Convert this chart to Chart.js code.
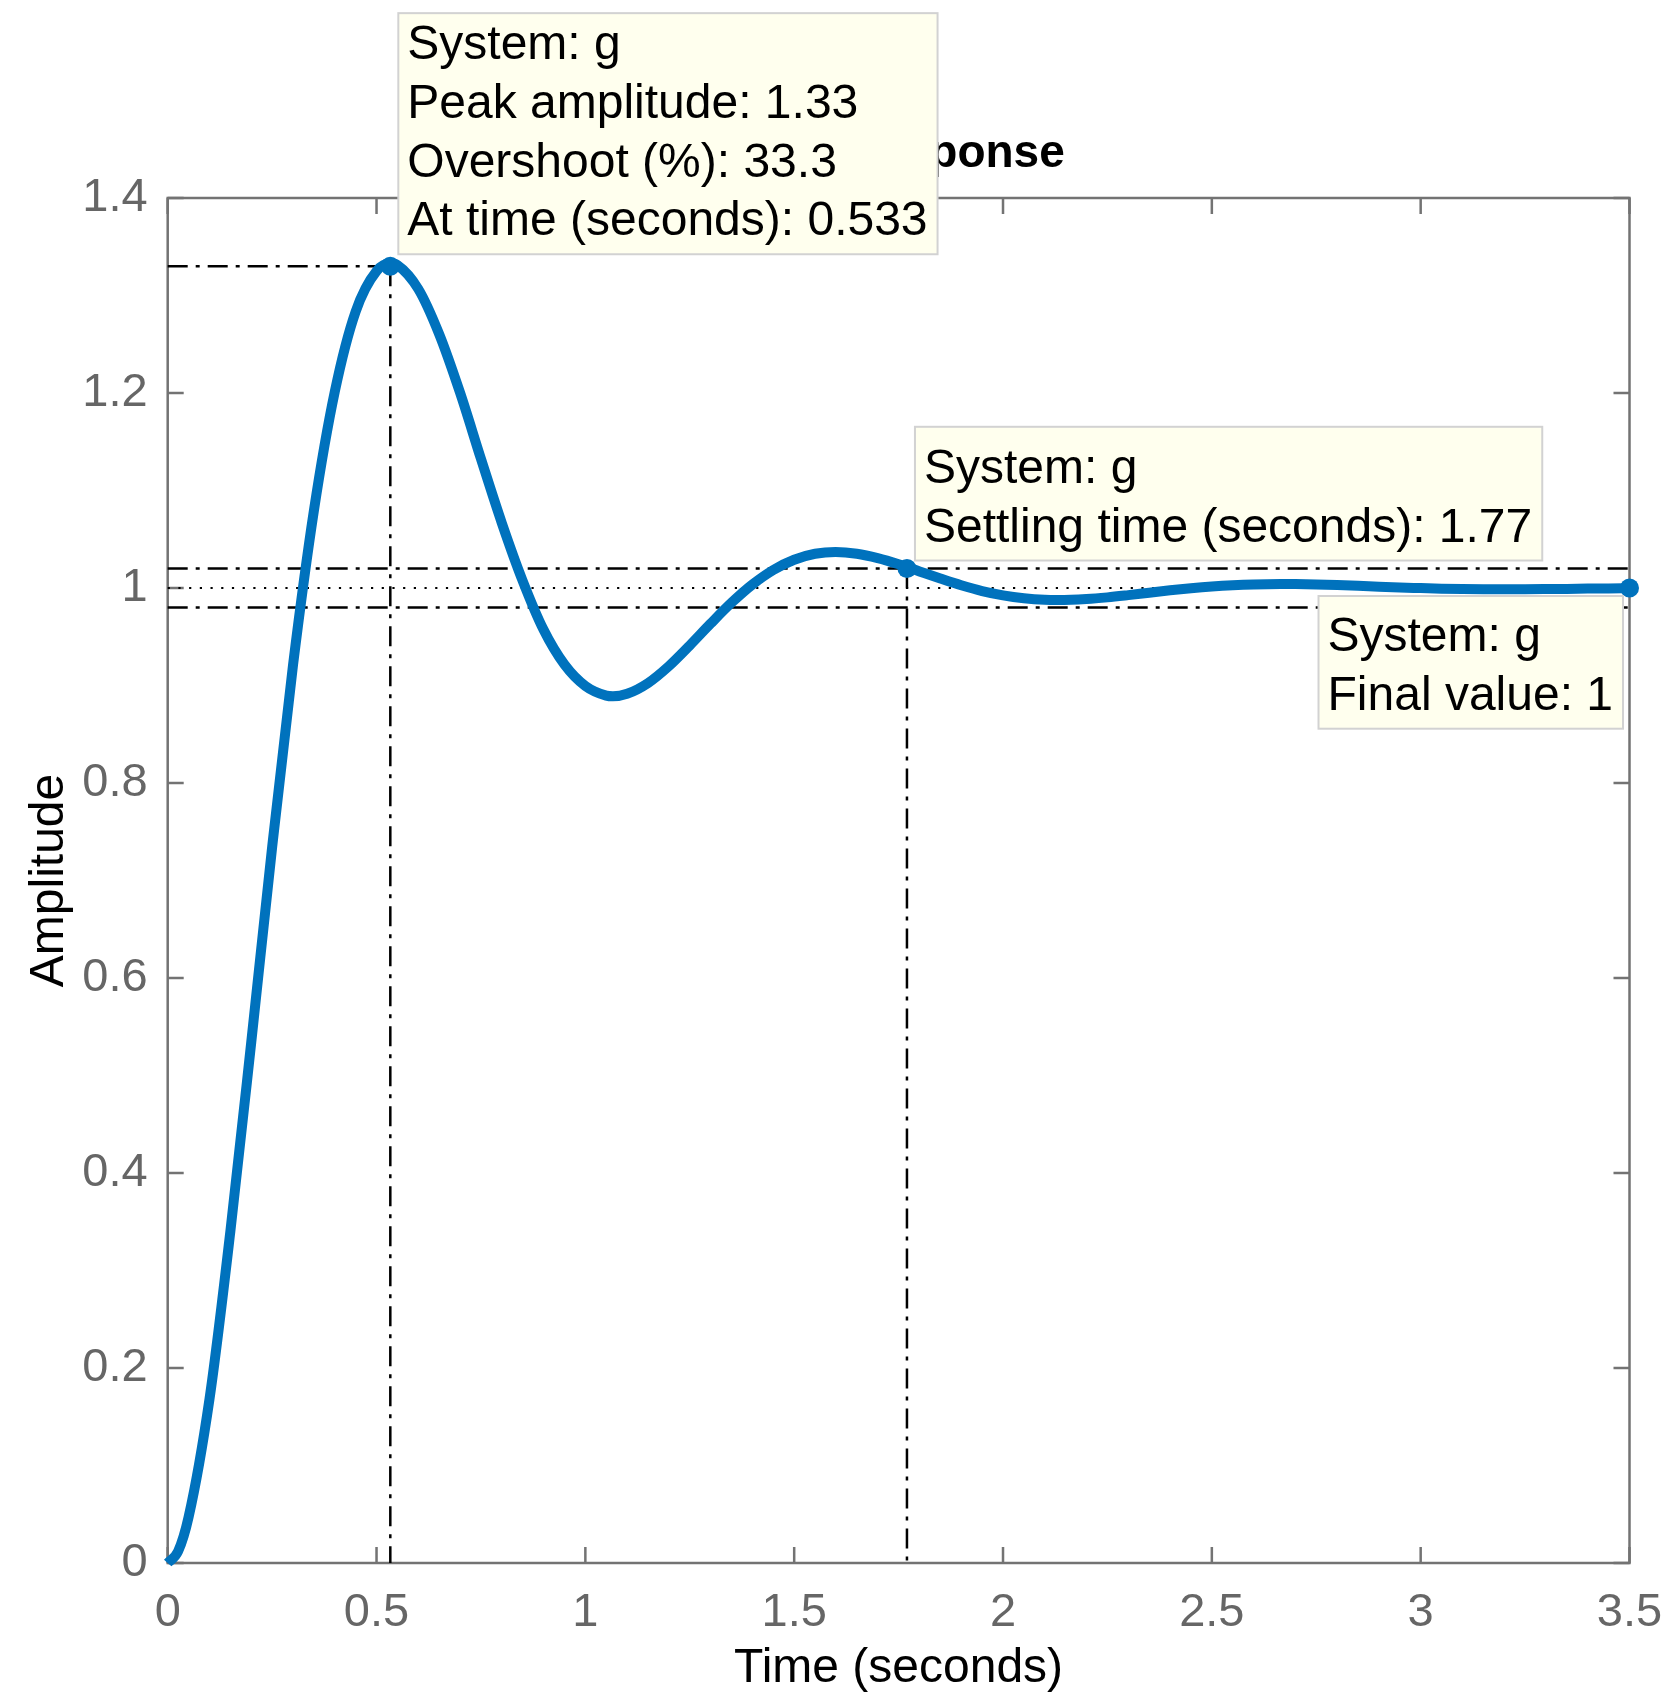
<!DOCTYPE html>
<html>
<head>
<meta charset="utf-8">
<title>Step Response</title>
<script src="https://cdn.jsdelivr.net/npm/chart.js@4.4.1/dist/chart.umd.min.js"></script>
<style>
  html, body { margin: 0; padding: 0; background: #ffffff; }
  #wrap { width: 1665px; height: 1695px; }
</style>
</head>
<body>
<div id="wrap"><canvas id="chart" width="1665" height="1695"></canvas></div>
<script>
// Step response of system g: time samples (s) and amplitude
const timeSeconds = [0, 0.025, 0.05, 0.1, 0.15, 0.2, 0.25, 0.3, 0.35, 0.4, 0.45, 0.5, 0.533,
  0.55, 0.6, 0.65, 0.7, 0.75, 0.8, 0.85, 0.9, 0.95, 1.0, 1.05, 1.066,
  1.1, 1.15, 1.2, 1.25, 1.3, 1.35, 1.4, 1.45, 1.5, 1.55, 1.599,
  1.65, 1.7, 1.75, 1.8, 1.85, 1.9, 1.95, 2.0, 2.05, 2.1, 2.132,
  2.2, 2.25, 2.3, 2.35, 2.4, 2.45, 2.5, 2.55, 2.6, 2.665,
  2.7, 2.75, 2.8, 2.85, 2.9, 2.95, 3.0, 3.05, 3.1, 3.15, 3.2, 3.25, 3.3, 3.35, 3.4, 3.45, 3.5];
const amplitude = [0, 0.012, 0.047, 0.168, 0.340, 0.534, 0.734, 0.9208, 1.0792, 1.2012, 1.2835, 1.3250, 1.3330,
  1.3312, 1.3067, 1.2604, 1.2003, 1.1325, 1.0666, 1.0072, 0.9571, 0.9215, 0.8995, 0.8896, 0.8889,
  0.8915, 0.9025, 0.9199, 0.9411, 0.9635, 0.9849, 1.0036, 1.0185, 1.0290, 1.0351, 1.0370,
  1.0352, 1.0307, 1.0244, 1.0170, 1.0097, 1.0028, 0.9969, 0.9925, 0.9895, 0.9879, 0.9877,
  0.9887, 0.9904, 0.9927, 0.9952, 0.9976, 0.9998, 1.0016, 1.0029, 1.0037, 1.0041,
  1.0040, 1.0036, 1.0030, 1.0022, 1.0013, 1.0005, 0.9999, 0.9993, 0.9989, 0.9987, 0.9986, 0.9987, 0.9989, 0.9991, 0.9994, 0.9996, 0.9999];

// Response characteristics
const systemName = 'g';
const peakAmplitude = 1.33;
const overshootPercent = 33.3;
const peakTime = 0.533;
const settlingTime = 1.77;
const settlingUpper = 1.02;
const settlingLower = 0.98;
const finalValue = 1;
const finalTime = 3.5;

// Axis ticks and labels
const xTickValues = [0, 0.5, 1, 1.5, 2, 2.5, 3, 3.5];
const xTickLabels = ['0', '0.5', '1', '1.5', '2', '2.5', '3', '3.5'];
const yTickValues = [0, 0.2, 0.4, 0.6, 0.8, 1, 1.2, 1.4];
const yTickLabels = ['0', '0.2', '0.4', '0.6', '0.8', '1', '1.2', '1.4'];
const chartTitle = 'Step Response';

const FONT = "'Liberation Sans', Arial, Helvetica, sans-serif";
const BLUE = '#0072BD';
const AXIS_GRAY = '#737373';
const TICK_TEXT = '#666666';

const pts = (xs, ys) => xs.map((x, i) => ({ x: x, y: ys[i] }));

const refLine = (data, dash, width) => ({
  type: 'line', data: data, borderColor: '#000000', borderWidth: width,
  borderDash: dash, pointRadius: 0, tension: 0, clip: false, order: 5
});
const DASHDOT = [20, 8, 4, 8];
const DOTTED = [2.2, 8.5];

const datasets = [
  {
    label: 'g', data: pts(timeSeconds, amplitude),
    borderColor: BLUE, borderWidth: 10, pointRadius: 0,
    cubicInterpolationMode: 'monotone', borderJoinStyle: 'round',
    clip: false, order: 1
  },
  // characteristic markers
  {
    label: 'markers', type: 'scatter',
    data: [{ x: peakTime, y: peakAmplitude }, { x: settlingTime, y: settlingUpper }, { x: finalTime, y: finalValue }],
    pointRadius: 9.5, pointBackgroundColor: BLUE, pointBorderWidth: 0,
    showLine: false, clip: false, order: 0
  },
  // settling band and steady-state level
  refLine([{ x: 0, y: settlingUpper }, { x: finalTime, y: settlingUpper }], DASHDOT, 2.5),
  refLine([{ x: 0, y: settlingLower }, { x: finalTime, y: settlingLower }], DASHDOT, 2.5),
  refLine([{ x: 0, y: finalValue }, { x: finalTime, y: finalValue }], DOTTED, 2.2),
  // peak guides
  refLine([{ x: 0, y: peakAmplitude }, { x: peakTime, y: peakAmplitude }], DASHDOT, 2.5),
  refLine([{ x: peakTime, y: peakAmplitude }, { x: peakTime, y: 0 }], DASHDOT, 2.5),
  // settling time guide
  refLine([{ x: settlingTime, y: settlingUpper }, { x: settlingTime, y: 0 }], DASHDOT, 2.5)
];

// Title centred over the axes, box around the axes, inward ticks on all four sides
const axesFrame = {
  id: 'axesFrame',
  beforeDatasetsDraw(chart) {
    const { ctx, chartArea: a, scales: { x, y } } = chart;
    const len = 16;
    ctx.save();
    ctx.fillStyle = '#000000';
    ctx.font = 'bold 46px ' + FONT;
    ctx.textAlign = 'center';
    ctx.textBaseline = 'alphabetic';
    ctx.fillText(chartTitle, (a.left + a.right) / 2, a.top - 31);

    ctx.strokeStyle = AXIS_GRAY;
    ctx.lineWidth = 2.5;
    ctx.beginPath();
    xTickValues.forEach(v => {
      const px = x.getPixelForValue(v);
      ctx.moveTo(px, a.bottom); ctx.lineTo(px, a.bottom - len);
      ctx.moveTo(px, a.top); ctx.lineTo(px, a.top + len);
    });
    yTickValues.forEach(v => {
      const py = y.getPixelForValue(v);
      ctx.moveTo(a.left, py); ctx.lineTo(a.left + len, py);
      ctx.moveTo(a.right, py); ctx.lineTo(a.right - len, py);
    });
    ctx.stroke();
    ctx.strokeRect(a.left, a.top, a.right - a.left, a.bottom - a.top);
    ctx.restore();
  }
};

// Data tips describing the response characteristics
const dataTips = [
  {
    lines: ['System: ' + systemName, 'Peak amplitude: ' + peakAmplitude.toFixed(2),
            'Overshoot (%): ' + overshootPercent.toFixed(1), 'At time (seconds): ' + peakTime.toFixed(3)],
    at: [peakTime, peakAmplitude], corner: 'bottom-left', dx: 8, dy: -12, padTop: 46
  },
  {
    lines: ['System: ' + systemName, 'Settling time (seconds): ' + settlingTime.toFixed(2)],
    at: [settlingTime, settlingUpper], corner: 'bottom-left', dx: 8, dy: -8, padTop: 56
  },
  {
    lines: ['System: ' + systemName, 'Final value: ' + finalValue],
    at: [finalTime, finalValue], corner: 'top-right', dx: -6.5, dy: 8, padTop: 55
  }
];

const dataTipPlugin = {
  id: 'dataTips',
  afterDraw(chart) {
    const { ctx, scales: { x, y } } = chart;
    const lineStep = 58.7, padL = 9, padR = 10, padBottom = 19;
    ctx.save();
    ctx.font = '48px ' + FONT;
    dataTips.forEach(tip => {
      const px = x.getPixelForValue(tip.at[0]);
      const py = y.getPixelForValue(tip.at[1]);
      const w = Math.max(...tip.lines.map(l => ctx.measureText(l).width)) + padL + padR;
      const h = tip.padTop + (tip.lines.length - 1) * lineStep + padBottom;
      let left, top;
      if (tip.corner === 'bottom-left') { left = px + tip.dx; top = py + tip.dy - h; }
      else { left = px + tip.dx - w; top = py + tip.dy; }
      ctx.fillStyle = '#FFFFEE';
      ctx.fillRect(left, top, w, h);
      ctx.strokeStyle = '#D2D2D2';
      ctx.lineWidth = 2;
      ctx.strokeRect(left, top, w, h);
      ctx.fillStyle = '#000000';
      ctx.textBaseline = 'alphabetic';
      ctx.textAlign = 'left';
      tip.lines.forEach((l, i) => ctx.fillText(l, left + padL, top + tip.padTop + i * lineStep));
    });
    ctx.restore();
  }
};

new Chart(document.getElementById('chart'), {
  type: 'line',
  data: { datasets: datasets },
  options: {
    responsive: false,
    devicePixelRatio: 1,
    animation: false,
    events: [],
    layout: { padding: { top: 198, left: 0, right: 35.5, bottom: 0 } },
    plugins: {
      legend: { display: false },
      tooltip: { enabled: false },
      title: { display: false }
    },
    scales: {
      x: {
        type: 'linear', min: 0, max: 3.5,
        afterBuildTicks: s => { s.ticks = xTickValues.map(v => ({ value: v })); },
        afterFit: s => { s.height = 132; s.paddingLeft = 0; s.paddingRight = 0; },
        grid: { display: false, drawTicks: false },
        border: { display: false },
        ticks: {
          padding: 22, color: TICK_TEXT, maxRotation: 0, autoSkip: false,
          font: { family: FONT, size: 47 },
          callback: (v, i) => xTickLabels[i]
        },
        title: {
          display: true, text: 'Time (seconds)', color: '#000000',
          font: { family: FONT, size: 48, lineHeight: 1.0 },
          padding: { top: 0, bottom: 2 }
        }
      },
      y: {
        type: 'linear', min: 0, max: 1.4,
        afterBuildTicks: s => { s.ticks = yTickValues.map(v => ({ value: v })); },
        afterFit: s => { s.width = 167.7; s.paddingTop = 0; s.paddingBottom = 0; },
        grid: { display: false, drawTicks: false },
        border: { display: false },
        ticks: {
          padding: 20, color: TICK_TEXT, autoSkip: false,
          font: { family: FONT, size: 47 },
          callback: (v, i) => yTickLabels[i]
        },
        title: {
          display: true, text: 'Amplitude', color: '#000000',
          font: { family: FONT, size: 48, lineHeight: 1.2 },
          padding: { top: 21, bottom: 0 }
        }
      }
    }
  },
  plugins: [axesFrame, dataTipPlugin]
});
</script>
</body>
</html>
